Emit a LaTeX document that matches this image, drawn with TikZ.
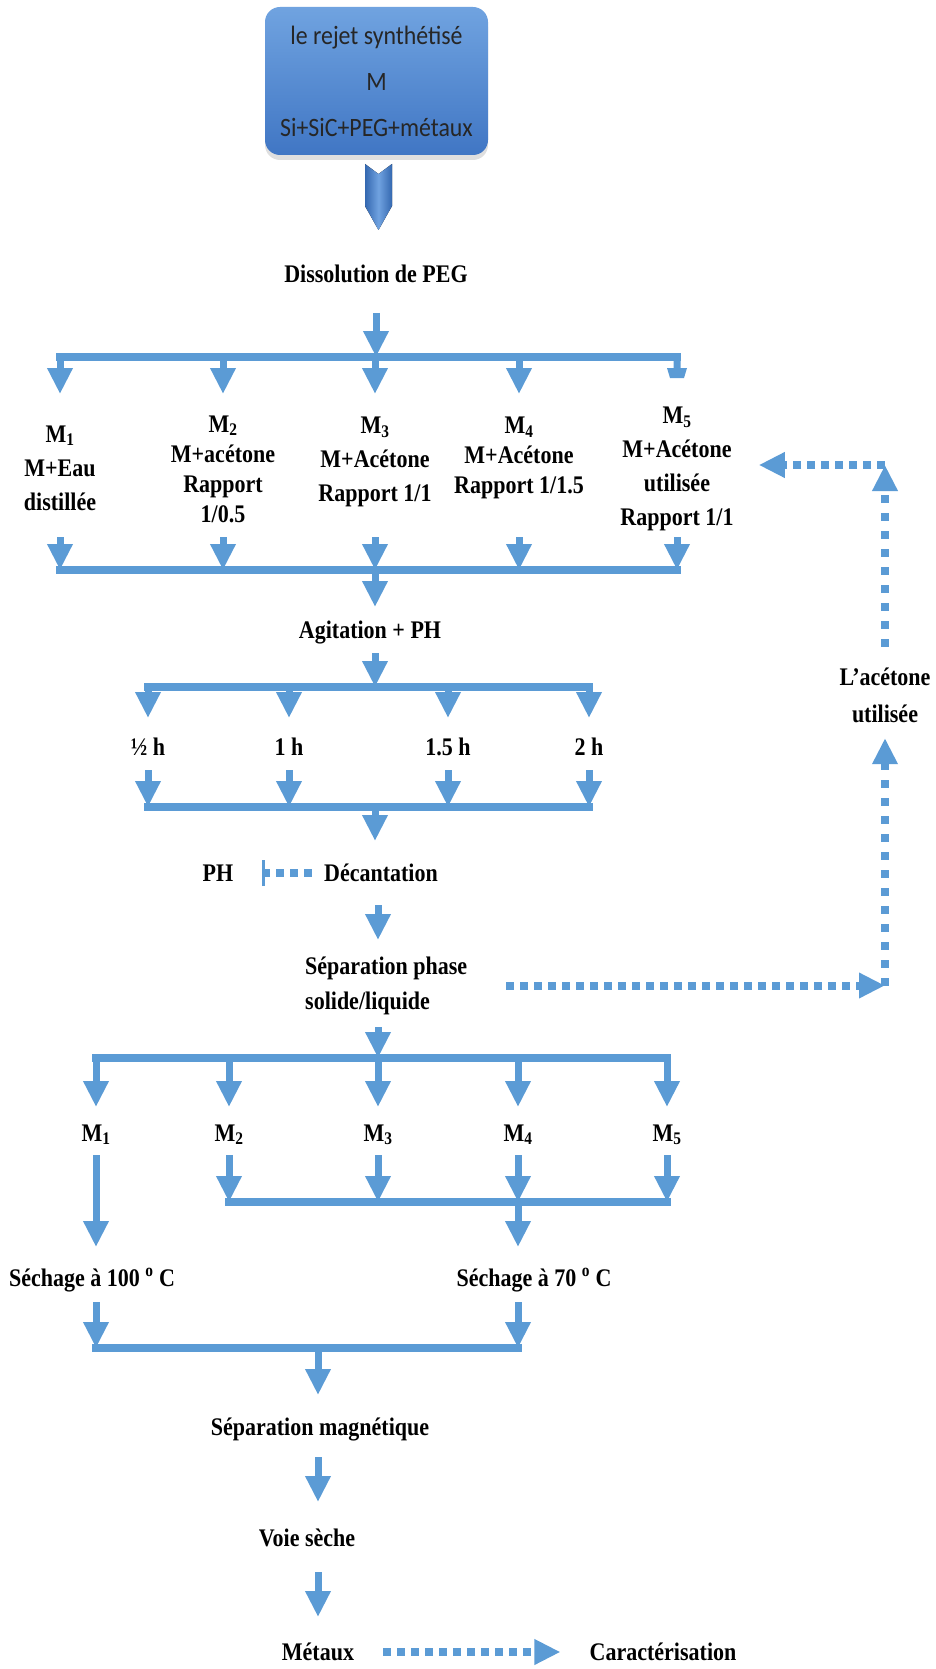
\documentclass[tikz,border=0pt]{standalone}
\usepackage{fontspec}
\setmainfont{Liberation Serif}[FakeStretch=0.87]
\newfontfamily\boxfont{Carlito}[FakeStretch=0.9]
\usetikzlibrary{arrows.meta, positioning, calc, shadows}
\definecolor{flowblue}{RGB}{91,155,213}
\definecolor{boxtop}{RGB}{112,163,224}
\definecolor{boxbot}{RGB}{64,118,196}
\definecolor{chevdark}{RGB}{52,104,176}
\definecolor{chevlight}{RGB}{112,162,224}
\tikzset{
  lbl/.style={font=\fontsize{25.3}{34}\selectfont\bfseries, align=center, inner sep=0pt},
  lbltight/.style={lbl, font=\fontsize{25.3}{30}\selectfont\bfseries},
  one/.style={lbl, text height=16pt, text depth=0pt},
  arr/.style={draw=flowblue, line width=7pt, -{Triangle[width=24pt,length=26pt]}},
  bar/.style={draw=flowblue, line width=8pt, line cap=rect},
  dots/.style={draw=flowblue, line width=8pt, dash pattern=on 8pt off 6pt},
  dotsv/.style={draw=flowblue, line width=8pt, dash pattern=on 8pt off 10pt},
  dtip/.style={-{Triangle[width=24pt,length=26pt]}},
}

\begin{document}
\begin{tikzpicture}[x=1pt, y=-1pt]
\useasboundingbox (0,0) rectangle (935,1669);
% source box and chevron
\node[draw=none, rounded corners=15pt, minimum width=223pt, minimum height=148pt,
  top color=boxtop, bottom color=boxbot, text=black!85, align=center,
  font=\boxfont\fontsize{26.5}{46}\selectfont,
  drop shadow={shadow xshift=0pt, shadow yshift=-5pt, opacity=0.25}]
  (rejet) at (376.5,81) {le rejet synthétisé\\M\\Si+SiC+PEG+métaux};
\fill[left color=chevdark, right color=chevdark, middle color=chevlight]
  (365,164) -- (378.5,174) -- (392,164) -- (392,206) -- (378.5,230) -- (365,206) -- cycle;
% labels
\node[one] (diss) at (376,275) {Dissolution de PEG};
\node[lbl] (m1) at (60,468) {M\textsubscript{1}\\M+Eau\\distillée};
\node[lbltight] (m2) at (223,469) {M\textsubscript{2}\\M+acétone\\Rapport\\1/0.5};
\node[lbl] (m3) at (375,462) {M\textsubscript{3}\\M+Acétone\\Rapport 1/1};
\node[lbltight] (m4) at (519,458) {M\textsubscript{4}\\M+Acétone\\Rapport 1/1.5};
\node[lbl] (m5) at (677,469) {M\textsubscript{5}\\M+Acétone\\utilisée\\Rapport 1/1};
\node[one] (agit) at (370,630) {Agitation + PH};
\node[one] (h1) at (148,747) {½ h};
\node[one] (h2) at (289,747) {1 h};
\node[one] (h3) at (448,747) {1.5 h};
\node[one] (h4) at (589,747) {2 h};
\node[one] (ph) at (218,873) {PH};
\node[one] (dec) at (381,873) {Décantation};
\node[lbl, align=left, anchor=west, font=\fontsize{25.3}{35}\selectfont\bfseries]
  (sep) at (305,985.5) {Séparation phase\\solide/liquide};
\node[lbl, font=\fontsize{25.3}{37}\selectfont\bfseries] (ace) at (885,695.5) {L’acétone\\utilisée};
\node[one] (n1) at (96,1133) {M\textsubscript{1}};
\node[one] (n2) at (229,1133) {M\textsubscript{2}};
\node[one] (n3) at (378,1133) {M\textsubscript{3}};
\node[one] (n4) at (518,1133) {M\textsubscript{4}};
\node[one] (n5) at (667,1133) {M\textsubscript{5}};
\node[one] (sec1) at (92,1278) {Séchage à 100 \textsuperscript{o} C};
\node[one] (sec2) at (534,1278) {Séchage à 70 \textsuperscript{o} C};
\node[one] (mag) at (320,1427) {Séparation magnétique};
\node[one] (voie) at (307,1538) {Voie sèche};
\node[one] (met) at (318,1652) {Métaux};
\node[one] (car) at (663,1652) {Caractérisation};
% levels of the splits and joins
\coordinate (s0) at (0,313);  \coordinate (b1) at (0,357);  \coordinate (t1) at (0,394);
\coordinate (u1) at (0,537);  \coordinate (b2) at (0,570);  \coordinate (t2) at (0,607);
\coordinate (s3) at (0,653);  \coordinate (b3) at (0,687);  \coordinate (t3) at (0,718);
\coordinate (u3) at (0,770);  \coordinate (b4) at (0,807);  \coordinate (t4) at (0,841);
\coordinate (s5) at (0,905);  \coordinate (t5) at (0,940);
\coordinate (s6) at (0,1027); \coordinate (b6) at (0,1058); \coordinate (t6) at (0,1107);
\coordinate (u6) at (0,1155); \coordinate (b7) at (0,1202); \coordinate (t7) at (0,1247);
\coordinate (u8) at (0,1302); \coordinate (b8) at (0,1348); \coordinate (t8) at (0,1395);
\coordinate (s9) at (0,1457); \coordinate (t9) at (0,1502);
\coordinate (s10) at (0,1572); \coordinate (t10) at (0,1617);
% first split: M1..M5
\draw[arr] (diss |- s0) -- (diss |- b1);
\draw[bar] (m1 |- b1) -- (m5 |- b1);
\foreach \n in {m1,m2,m3,m4}{\draw[arr] (\n |- b1) -- (\n |- t1);}
\fill[flowblue] (673.5,357) -- (680.5,357) -- (680.5,368) -- (687,368) -- (684,378)
  -- (670,378) -- (667,368) -- (673.5,368) -- cycle;
\foreach \n in {m1,m2,m3,m4,m5}{\draw[arr] (\n |- u1) -- (\n |- b2);}
\draw[bar] (m1 |- b2) -- (m5 |- b2);
\draw[arr] (m3 |- b2) -- (m3 |- t2);
% agitation times
\draw[arr] (m3 |- s3) -- (m3 |- b3);
\draw[bar] (h1 |- b3) -- (h4 |- b3);
\foreach \n in {h1,h2,h3,h4}{\draw[arr] (\n |- b3) -- (\n |- t3);}
\foreach \n in {h1,h2,h3,h4}{\draw[arr] (\n |- u3) -- (\n |- b4);}
\draw[bar] (h1 |- b4) -- (h4 |- b4);
\draw[arr] (m3 |- b4) -- (m3 |- t4);
\draw[dots, -{Bar[width=26pt,line width=2.5pt]}, shorten <=12pt, shorten >=29pt] (dec.west) -- (ph.east);
\draw[arr] (n3 |- s5) -- (n3 |- t5);
% recycled acetone
\coordinate (cornlow) at (885,985.5);
\coordinate (corntop) at (885,465);
\draw[dots, dtip, shorten <=39pt] (sep.east) -- (cornlow);
\draw[dotsv, dtip, shorten >=15pt] (cornlow) -- (ace.south);
\draw[dotsv, dtip, shorten <=21pt] (ace.north) -- (corntop);
\draw[dots, dtip, shorten >=25pt] (corntop) -- (corntop -| m5.east);
% second split and drying
\draw[arr] (n3 |- s6) -- (n3 |- b6);
\draw[bar] (n1 |- b6) -- (n5 |- b6);
\foreach \n in {n1,n2,n3,n4,n5}{\draw[arr] (\n |- b6) -- (\n |- t6);}
\draw[arr] (n1 |- u6) -- (n1 |- t7);
\foreach \n in {n2,n3,n4,n5}{\draw[arr] (\n |- u6) -- (\n |- b7);}
\draw[bar] (n2 |- b7) -- (n5 |- b7);
\draw[arr] (n4 |- b7) -- (n4 |- t7);
\draw[arr] (n1 |- u8) -- (n1 |- b8);
\draw[arr] (n4 |- u8) -- (n4 |- b8);
\draw[bar] (n1 |- b8) -- (n4 |- b8);
\draw[arr] (met |- b8) -- (met |- t8);
\draw[arr] (met |- s9) -- (met |- t9);
\draw[arr] (met |- s10) -- (met |- t10);
\draw[dots, dtip, shorten <=29pt, shorten >=29pt] (met.east) -- (car.west);
\end{tikzpicture}
\end{document}
